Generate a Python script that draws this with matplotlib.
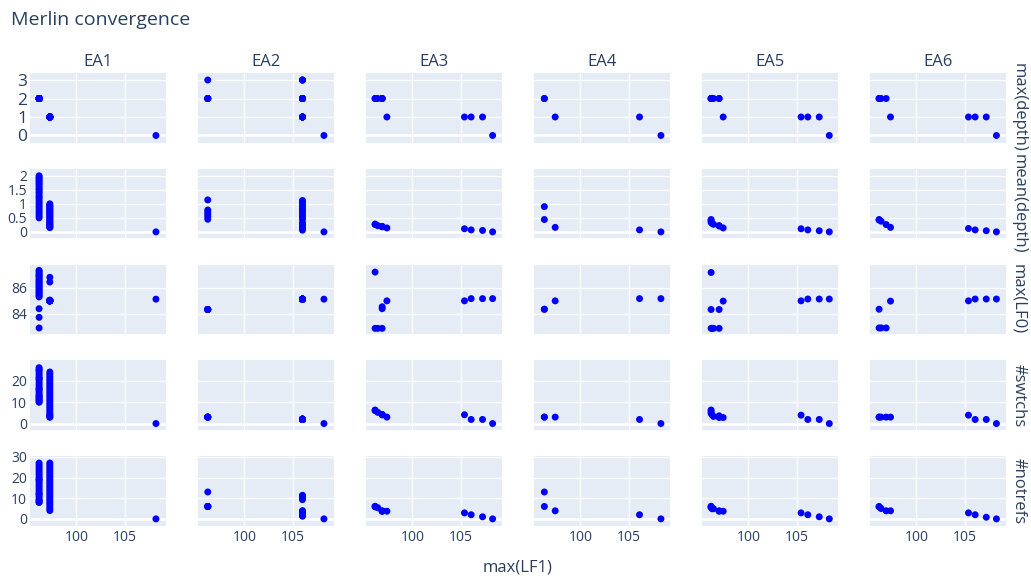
import matplotlib
matplotlib.use('Agg')
import matplotlib.pyplot as plt

# data: one point per run, x = max(LF1)
ea_names = ['EA1', 'EA2', 'EA3', 'EA4', 'EA5', 'EA6']
metric_names = ['max(depth)', 'mean(depth)', 'max(LF0)', '#swtchs', '#notrefs']

# EA1
ea1_lf1 = [96.15] * 24 + [97.26] * 24 + [108.23]
ea1_maxdepth = [2] * 24 + [1] * 24 + [0]
ea1_meandepth = [2.0, 1.95, 1.9, 1.85, 1.8, 1.74, 1.68, 1.62, 1.55, 1.5, 1.44, 1.38,
                 1.3, 1.24, 1.18, 1.1, 1.02, 0.95, 0.88, 0.8, 0.72, 0.65, 0.57, 0.5,
                 1.0, 0.96, 0.92, 0.88, 0.84, 0.8, 0.76, 0.72, 0.68, 0.64, 0.6, 0.56,
                 0.52, 0.48, 0.44, 0.4, 0.36, 0.32, 0.28, 0.25, 0.22, 0.19, 0.17, 0.15,
                 0.0]
ea1_maxlf0 = [87.33, 87.25, 87.1, 87.0, 86.9, 86.85, 86.7, 86.6, 86.5, 86.4, 86.3, 86.2,
              86.1, 86.0, 85.9, 85.8, 85.7, 85.6, 85.5, 85.4, 85.3, 84.4, 83.74, 82.93,
              86.8, 86.44, 85.0, 85.0, 85.0, 85.0, 85.0, 85.0, 85.0, 85.0, 85.0, 85.0,
              85.0, 85.0, 85.0, 85.0, 85.0, 85.0, 85.0, 85.0, 85.05, 85.05, 85.0, 85.0,
              85.13]
ea1_swtchs = [26, 25, 25, 24, 23, 22, 21, 21, 20, 19, 18, 17,
              16, 16, 15, 14, 13, 13, 12, 11, 11, 10, 10, 12,
              24, 23, 22, 21, 20, 19, 18, 17, 16, 15, 14, 13,
              12, 11, 10, 9, 8, 7, 6, 5, 4, 4, 3, 3,
              0]
ea1_notrefs = [27, 26, 25, 24, 23, 22, 21, 20, 19, 19, 18, 17,
               16, 15, 14, 13, 12, 12, 11, 10, 9, 9, 8, 8,
               27, 26, 25, 24, 23, 22, 21, 20, 19, 18, 17, 16,
               15, 14, 13, 12, 11, 10, 9, 8, 7, 6, 5, 4,
               0]

# EA2
ea2_lf1 = [96.22] * 6 + [106.01] * 16 + [108.23]
ea2_maxdepth = [3, 2, 2, 2, 2, 2,
                3, 3, 3, 2, 2, 2, 2, 2, 2, 1, 1, 1, 1, 1, 1, 1,
                0]
ea2_meandepth = [1.14, 0.78, 0.7, 0.62, 0.54, 0.45,
                 1.12, 1.05, 0.98, 0.9, 0.83, 0.76, 0.69, 0.6, 0.52, 0.45, 0.33, 0.28,
                 0.22, 0.15, 0.1, 0.06,
                 0.0]
ea2_maxlf0 = [84.34] * 6 + [85.13] * 16 + [85.13]
ea2_swtchs = [3] * 6 + [2] * 16 + [0]
ea2_notrefs = [13, 6, 6, 6, 6, 6,
               11.4, 11, 10.6, 10.2, 9.8, 9.3, 11, 10, 4, 3.6, 3, 2.6, 2, 1.5, 1.3, 3.2,
               0]

# EA3
ea3_lf1 = [96.15, 96.15, 96.43, 96.88, 96.88, 96.88, 97.37, 105.39, 106.08, 107.26, 108.3]
ea3_maxdepth = [2, 2, 2, 2, 2, 2, 1, 1, 1, 1, 0]
ea3_meandepth = [0.28, 0.26, 0.22, 0.19, 0.19, 0.18, 0.14, 0.11, 0.07, 0.05, 0.0]
ea3_maxlf0 = [87.2, 82.9, 82.9, 82.9, 84.4, 84.55, 85.0, 85.0, 85.17, 85.17, 85.17]
ea3_swtchs = [6.3, 6, 5.2, 4.2, 4.2, 4, 3.0, 4.1, 1.9, 1.9, 0]
ea3_notrefs = [6.1, 5.8, 5.4, 3.7, 3.7, 3.9, 3.7, 2.9, 2.0, 1.0, 0]

# EA4
ea4_lf1 = [96.28, 96.28, 97.4, 106.12, 108.33]
ea4_maxdepth = [2, 2, 1, 1, 0]
ea4_meandepth = [0.9, 0.44, 0.16, 0.07, 0.0]
ea4_maxlf0 = [84.36, 84.36, 85.0, 85.17, 85.17]
ea4_swtchs = [3, 3, 3, 1.9, 0]
ea4_notrefs = [13, 6, 3.9, 2.0, 0]

# EA5
ea5_lf1 = [96.15, 96.15, 96.15, 96.25, 96.4, 96.98, 96.98, 97.4, 105.45, 106.15, 107.33, 108.37]
ea5_maxdepth = [2, 2, 2, 2, 2, 2, 2, 1, 1, 1, 1, 0]
ea5_meandepth = [0.44, 0.4, 0.34, 0.3, 0.27, 0.22, 0.21, 0.14, 0.11, 0.07, 0.04, 0.0]
ea5_maxlf0 = [87.17, 84.34, 82.9, 82.9, 82.9, 84.34, 82.9, 84.98, 85.0, 85.14, 85.14, 85.14]
ea5_swtchs = [6.3, 5.5, 4.8, 4, 3.3, 3.6, 2.8, 2.8, 3.9, 1.9, 1.9, 0]
ea5_notrefs = [6.1, 5.8, 5.5, 4.9, 4.9, 3.7, 3.9, 3.7, 2.9, 2.0, 1.0, 0]

# EA6
ea6_lf1 = [96.15, 96.15, 96.36, 96.88, 97.33, 105.39, 106.08, 107.23, 108.28]
ea6_maxdepth = [2, 2, 2, 2, 1, 1, 1, 1, 0]
ea6_meandepth = [0.44, 0.42, 0.38, 0.26, 0.16, 0.12, 0.07, 0.04, 0.0]
ea6_maxlf0 = [84.36, 82.93, 82.93, 82.93, 84.98, 85.0, 85.14, 85.14, 85.14]
ea6_swtchs = [3, 3, 3, 3, 3, 3.9, 1.9, 1.9, 0]
ea6_notrefs = [6.0, 5.8, 5.0, 3.9, 3.9, 2.9, 2.0, 0.8, 0]

x_ticks = [100, 105]
y_ticks = [[0, 1, 2, 3], [0, 0.5, 1, 1.5, 2], [84, 86], [0, 10, 20], [0, 10, 20, 30]]
y_ticklabels = [['0', '1', '2', '3'], ['0', '0.5', '1', '1.5', '2'], ['84', '86'],
                ['0', '10', '20'], ['0', '10', '20', '30']]

lf1_all = [ea1_lf1, ea2_lf1, ea3_lf1, ea4_lf1, ea5_lf1, ea6_lf1]
metrics_all = [
    [ea1_maxdepth, ea1_meandepth, ea1_maxlf0, ea1_swtchs, ea1_notrefs],
    [ea2_maxdepth, ea2_meandepth, ea2_maxlf0, ea2_swtchs, ea2_notrefs],
    [ea3_maxdepth, ea3_meandepth, ea3_maxlf0, ea3_swtchs, ea3_notrefs],
    [ea4_maxdepth, ea4_meandepth, ea4_maxlf0, ea4_swtchs, ea4_notrefs],
    [ea5_maxdepth, ea5_meandepth, ea5_maxlf0, ea5_swtchs, ea5_notrefs],
    [ea6_maxdepth, ea6_meandepth, ea6_maxlf0, ea6_swtchs, ea6_notrefs],
]

# style / layout
plt.rcParams['font.family'] = ['Open Sans', 'DejaVu Sans']
TEXT = '#2a3f5f'
BG = '#E5ECF6'
W, H = 1031, 579
x_range = (95.21, 109.27)
y_ranges = [(-0.38, 3.38), (-0.23, 2.25), (82.46, 87.77), (-2.96, 29.4), (-3.3, 30.3)]

fig = plt.figure(figsize=(W / 100, H / 100), dpi=100)

left0, col_pitch, col_w = 30, 168, 136
top0, row_pitch, row_h = 73, 95.8, 69.5

for c in range(6):
    for r in range(5):
        left = left0 + c * col_pitch
        top = top0 + r * row_pitch
        ax = fig.add_axes([left / W, 1 - (top + row_h) / H, col_w / W, row_h / H])
        ax.set_facecolor(BG)
        for s in ax.spines.values():
            s.set_visible(False)
        ax.set_xlim(*x_range)
        ax.set_ylim(*y_ranges[r])
        ax.set_xticks(x_ticks)
        ax.set_yticks(y_ticks[r])
        ax.grid(True, color='white', lw=0.9)
        ax.set_axisbelow(True)
        if y_ranges[r][0] < 0 < y_ranges[r][1]:
            ax.axhline(0, color='white', lw=1.8, zorder=1)
        ax.tick_params(length=0, colors=TEXT)
        if c == 0:
            ax.set_yticklabels(y_ticklabels[r], fontsize=12.5 if r == 0 else 10)
            ax.tick_params(axis='y', pad=2)
        else:
            ax.set_yticklabels([])
        if r == 4:
            ax.set_xticklabels([str(t) for t in x_ticks], fontsize=10)
            ax.tick_params(axis='x', pad=3)
        else:
            ax.set_xticklabels([])
        ax.scatter(lf1_all[c], metrics_all[c][r], s=25, color='#0000ff',
                   edgecolors='none', zorder=3)
        if r == 0:
            ax.set_title(ea_names[c], fontsize=12, color=TEXT, pad=5)
        if c == 5:
            ax.text(1.09, 0.5, metric_names[r], transform=ax.transAxes, rotation=-90,
                    ha='center', va='center', fontsize=12, color=TEXT)

fig.text(11 / W, 1 - 20 / H, 'Merlin convergence', fontsize=14, color=TEXT,
         ha='left', va='center')
fig.text(518 / W, 1 - 567 / H, 'max(LF1)', fontsize=12, color=TEXT,
         ha='center', va='center')

fig.savefig('out.png', dpi=100)
